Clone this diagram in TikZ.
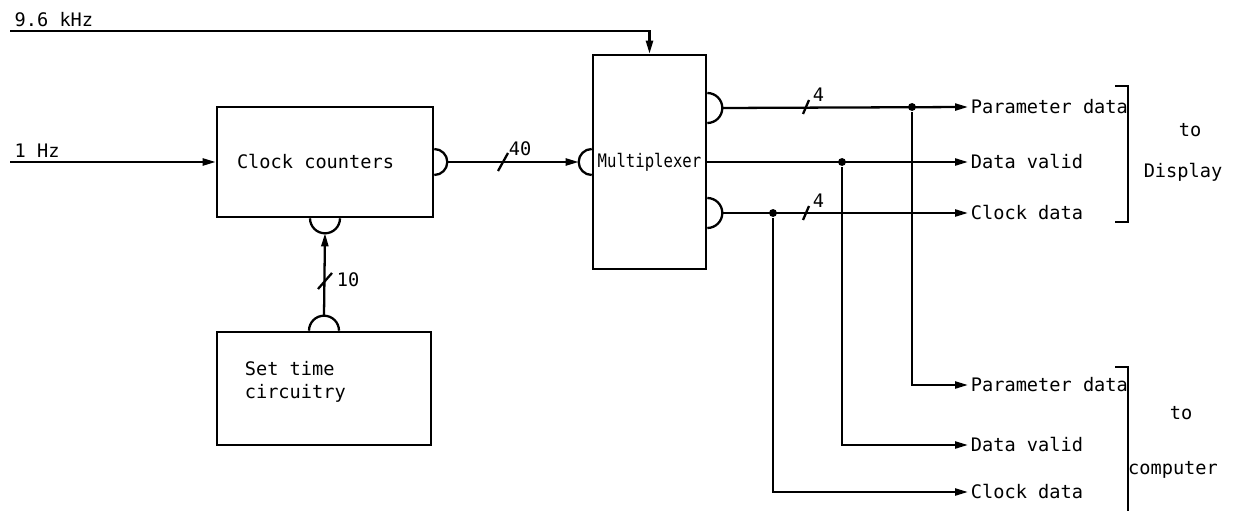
\documentclass[tikz,border=0pt]{standalone}
\usepackage{fontspec}
\setmonofont{DejaVu Sans Mono}
\newfontfamily\narrowmono[FakeStretch=0.84]{DejaVu Sans Mono}
\usetikzlibrary{arrows.meta, positioning, calc}

\begin{document}
\begin{tikzpicture}[x=0.02cm, y=0.02cm, line width=1.3pt,
    font=\ttfamily\fontsize{10.6}{13}\selectfont,
    block/.style={draw, line width=1.5pt, inner sep=0pt},
    sig/.style={-{Triangle[length=2.6mm, width=1.4mm]}},
    lbl/.style={anchor=west, inner sep=1pt},
    junc/.style={circle, fill, inner sep=0pt, minimum size=4.5pt}]
  \useasboundingbox (0,0) rectangle (1233,511);

  % blocks
  \node[block, minimum width=4.32cm, minimum height=2.2cm, text width=3.52cm, align=flush left] (clock) at (325,349) {Clock counters};
  \node[block, minimum width=2.26cm, minimum height=4.28cm] (mux) at (649.5,349) {\narrowmono Multiplexer};
  \node[block, minimum width=4.28cm, minimum height=2.26cm] (set) at (324,122.5) {};
  \node[anchor=north west, align=flush left, inner sep=0pt] (settxt) at ($(set.north west)+(28,-30)$) {Set time\\circuitry};

  % bus connectors (half circles)
  \draw ($(clock.east)+(0,13)$) arc[start angle=90, end angle=-90, radius=13];
  \draw ($(mux.west)+(0,13)$) arc[start angle=90, end angle=270, radius=13];
  \draw ($(clock.south)+(-15,0)$) arc[start angle=180, end angle=360, radius=15];
  \draw ($(set.north)+(-15,0)$) arc[start angle=180, end angle=0, radius=15];
  \draw ($(mux.east)+(0,69)$) arc[start angle=90, end angle=-90, radius=15];
  \draw ($(mux.east)+(0,-36)$) arc[start angle=90, end angle=-90, radius=15];
  \coordinate (clock-out) at ($(clock.east)+(13,0)$);
  \coordinate (mux-in) at ($(mux.west)+(-13,0)$);
  \coordinate (clock-in) at ($(clock.south)+(0,-15)$);
  \coordinate (set-out) at ($(set.north)+(0,15)$);
  \coordinate (mux-param) at ($(mux.east)+(15,54)$);
  \coordinate (mux-clock) at ($(mux.east)+(15,-51)$);

  % inputs
  \node[anchor=south west, inner sep=2pt] (khz) at (10,480) {9.6 kHz};
  \node[anchor=south west, inner sep=2pt] (hz) at (10,349) {1 Hz};
  \draw[sig] (khz.south west) -| (mux.north);
  \draw[sig] (hz.south west) -- (clock.west);
  \draw[sig] (clock-out) -- (mux-in);
  \draw[sig] (set-out) -- (clock-in);

  % outputs to display
  \node[lbl] (d-param) at (968,404) {Parameter data};
  \node[lbl] (d-valid) at (968,349) {Data valid};
  \node[lbl] (d-clock) at (968,298) {Clock data};
  \draw[sig] (mux-param) -- (d-param.west);
  \draw[sig] (mux.east) -- (d-valid.west);
  \draw[sig] (mux-clock) -- (d-clock.west);

  % outputs to computer
  \node[lbl] (c-param) at (968,126) {Parameter data};
  \node[lbl] (c-valid) at (968,66) {Data valid};
  \node[lbl] (c-clock) at (968,19) {Clock data};
  \node[junc] (j-param) at (912,404) {};
  \node[junc] (j-valid) at (842,349) {};
  \node[junc] (j-clock) at (773,298) {};
  \draw[sig] (j-param) |- (c-param.west);
  \draw[sig] (j-valid) |- (c-valid.west);
  \draw[sig] (j-clock) |- (c-clock.west);

  % bus widths
  \coordinate (b40) at (503,349);
  \coordinate (b10) at (325,230);
  \coordinate (b4a) at (806,404);
  \coordinate (b4b) at (806,298);
  \draw (b40) ++(-5,-9) -- ++(10,18);
  \draw (b10) ++(-7,-8) -- ++(14,16);
  \draw (b4a) ++(-3,-7) -- ++(6,14);
  \draw (b4b) ++(-3,-7) -- ++(6,14);
  \node[anchor=south west, inner sep=1pt] (n40) at (506,352) {40};
  \node[anchor=west, inner sep=1pt] (n10) at (334,231) {10};
  \node[anchor=south west, inner sep=1pt] (n4a) at (810,407) {4};
  \node[anchor=south west, inner sep=1pt] (n4b) at (810,301) {4};

  % brackets and destinations
  \draw (1115,425) -| (1128,289) -- (1115,289);
  \draw (1115,144) -| (1128,0);
  \node (to-d) at (1190,381) {to};
  \node (display) at (1183,339) {Display};
  \node (to-c) at (1181,98) {to};
  \node[anchor=west, inner sep=0pt] (computer) at (1127,41) {computer};
\end{tikzpicture}
\end{document}
